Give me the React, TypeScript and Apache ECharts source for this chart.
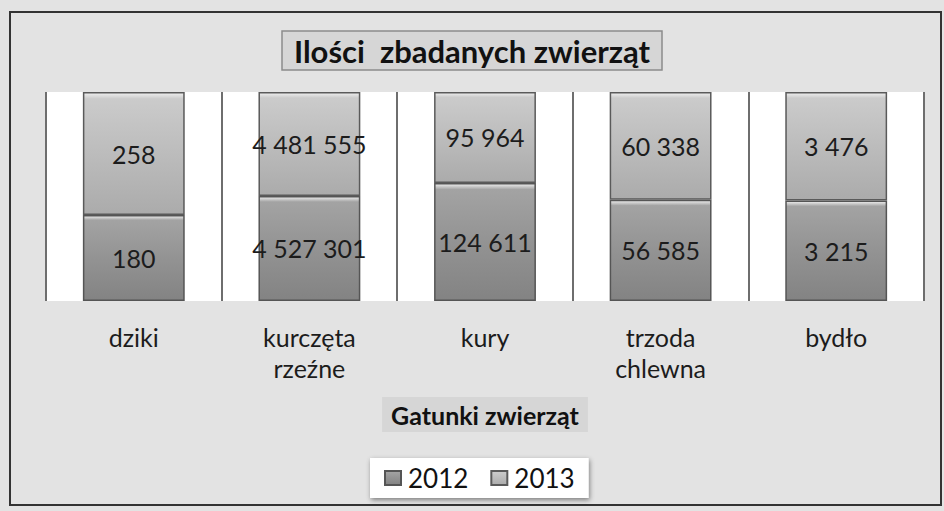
import { useEffect, useRef } from "react";
import * as echarts from "echarts";

const categories = ["dziki", "kurczęta\nrzeźne", "kury", "trzoda\nchlewna", "bydło"];
const values2012 = [180, 4527301, 124611, 56585, 3215];
const values2013 = [258, 4481555, 95964, 60338, 3476];
const seriesNames = ["2012", "2013"];
const titleText = "Ilości  zbadanych zwierząt";
const axisTitle = "Gatunki zwierząt";

const FONT = "Lato, 'DejaVu Sans', sans-serif";

function fmt(v: number): string {
  return String(v).replace(/\B(?=(\d{3})+(?!\d))/g, " ");
}

function shares(a: number[], b: number[], which: number[]) {
  return which.map((v, i) => ({ value: (v / (a[i] + b[i])) * 100, raw: v }));
}

export default function App() {
  const ref = useRef<HTMLDivElement>(null);
  useEffect(() => {
    if (!ref.current) return;
    const chart = echarts.init(ref.current, undefined, { renderer: "svg" });
    const grad = (top: string, mid: string, bottom: string) =>
      new echarts.graphic.LinearGradient(0, 0, 0, 1, [
        { offset: 0, color: "#f0f0f0" },
        { offset: 0.05, color: top },
        { offset: 0.5, color: mid },
        { offset: 1, color: bottom },
      ]);
    const labelStyle = {
      show: true,
      position: "inside",
      color: "#1c1c1c",
      fontSize: 25,
      fontFamily: FONT,
      formatter: (p: any) => fmt(p.data.raw),
    };
    chart.setOption({
      animation: false,
      backgroundColor: "#e3e3e3",
      title: {
        text: titleText,
        left: "center",
        top: 31,
        padding: [4, 12, 4, 12],
        backgroundColor: "#d6d6d6",
        borderColor: "#8c8c8c",
        borderWidth: 1.5,
        textStyle: {
          fontFamily: FONT,
          fontWeight: "bold",
          fontSize: 31,
          color: "#111",
        },
      },
      legend: {
        data: seriesNames,
        top: 458,
        left: 370,
        padding: [7, 14, 7, 14],
        itemGap: 22,
        itemWidth: 16,
        itemHeight: 14,
        backgroundColor: "#ffffff",
        shadowBlur: 5,
        shadowColor: "rgba(0,0,0,0.45)",
        shadowOffsetX: 1,
        shadowOffsetY: 2,
        icon: "rect",
        textStyle: { fontFamily: FONT, fontSize: 26, color: "#111", padding: [0, 0, 0, 2] },
      },
      grid: {
        left: 46,
        right: 20,
        top: 92,
        bottom: 210,
        show: true,
        backgroundColor: "#ffffff",
        borderWidth: 0,
      },
      xAxis: {
        type: "category",
        data: categories,
        name: axisTitle,
        nameLocation: "middle",
        nameGap: 96,
        nameTextStyle: {
          fontFamily: FONT,
          fontWeight: "bold",
          fontSize: 25,
          color: "#111",
          backgroundColor: "#d6d6d6",
          padding: [5, 9, 5, 9],
        },
        axisLine: { show: false },
        axisTick: { show: false },
        splitLine: { show: true, lineStyle: { color: "#6e6e6e", width: 2 } },
        axisLabel: {
          margin: 20,
          fontFamily: FONT,
          fontSize: 25,
          color: "#1c1c1c",
          lineHeight: 31,
        },
      },
      yAxis: {
        type: "value",
        min: 0,
        max: 100,
        show: false,
        splitLine: { show: false },
      },
      series: [
        {
          name: seriesNames[0],
          type: "bar",
          stack: "total",
          barWidth: "58%",
          data: shares(values2012, values2013, values2012),
          itemStyle: {
            color: grad("#a3a3a3", "#939393", "#838383"),
            borderColor: "#555",
            borderWidth: 1.5,
          },
          label: labelStyle,
        },
        {
          name: seriesNames[1],
          type: "bar",
          stack: "total",
          barWidth: "58%",
          data: shares(values2012, values2013, values2013),
          itemStyle: {
            color: grad("#cbcbcb", "#bcbcbc", "#ababab"),
            borderColor: "#5a5a5a",
            borderWidth: 1.5,
          },
          label: labelStyle,
        },
      ],
      graphic: [
        {
          type: "rect",
          shape: { x: 10, y: 12, width: 931, height: 493 },
          style: { fill: "none", stroke: "#333", lineWidth: 2 },
          silent: true,
        },
      ],
    });
    return () => chart.dispose();
  }, []);
  return (
    <div
      ref={ref}
      style={{ position: "fixed", left: 0, top: 0, width: 944, height: 511 }}
    />
  );
}
